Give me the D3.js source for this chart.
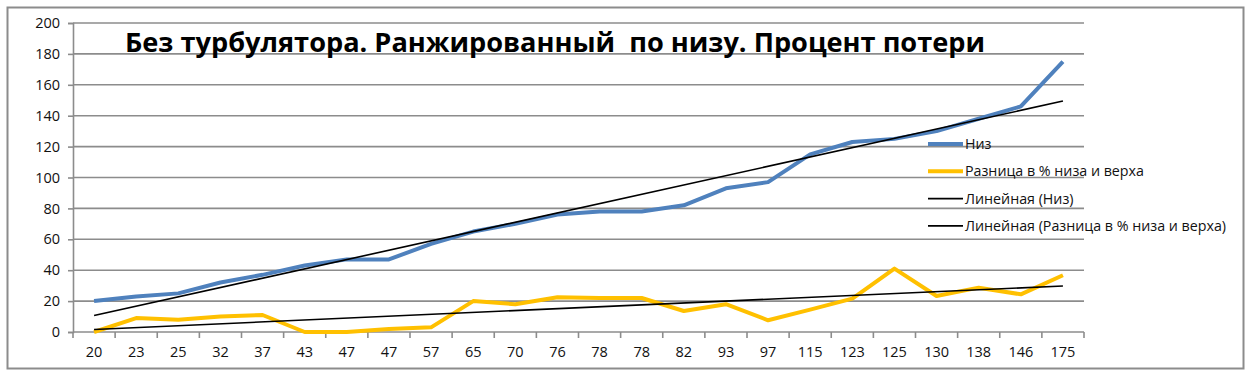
<!DOCTYPE html>
<html>
<head>
<meta charset="utf-8">
<script src="https://cdn.jsdelivr.net/npm/d3@7"></script>
<style>
  body { margin: 0; background: #fff; }
  svg { display: block; }
</style>
</head>
<body>
<div id="chart"></div>
<script>
// chart size
const WIDTH = 1251;
const HEIGHT = 376;
const MARGIN = { TOP: 23, RIGHT: 167, BOTTOM: 44, LEFT: 73 };

// data
const categories = ["20", "23", "25", "32", "37", "43", "47", "47", "57", "65", "70", "76",
    "78", "78", "82", "93", "97", "115", "123", "125", "130", "138", "146", "175"];
const niz = [20, 23, 25, 32, 37, 43, 47, 47, 57, 65, 70, 76,
    78, 78, 82, 93, 97, 115, 123, 125, 130, 138, 146, 175];
const raznica = [0, 9, 8, 10, 11, 0, 0, 2, 3, 20, 18, 22.5,
    22, 22, 13.6, 18, 7.6, 14.5, 21.6, 41, 23.3, 28.7, 24.4, 36.7];
const yTicks = [0, 20, 40, 60, 80, 100, 120, 140, 160, 180, 200];
const legendNames = ["Низ", "Разница в % низа и верха", "Линейная (Низ)", "Линейная (Разница в % низа и верха)"];
const title = "Без турбулятора. Ранжированный  по низу. Процент потери";

const BLUE = "#4f81bd";
const YELLOW = "#ffc000";
const GRID = "#8c8c8c";
const FONT = "'Open Sans', 'DejaVu Sans', sans-serif";

let svg = d3.select("#chart").append("svg")
    .attr("width", WIDTH)
    .attr("height", HEIGHT);

// outer frame
svg.append("rect")
    .attr("x", 7.5).attr("y", 7.5)
    .attr("width", 1236).attr("height", 361)
    .attr("fill", "none")
    .attr("stroke", GRID)
    .attr("stroke-width", 2);

let xScale = d3.scaleBand()
    .domain(d3.range(categories.length))
    .range([MARGIN.LEFT, WIDTH - MARGIN.RIGHT]);

let yScale = d3.scaleLinear()
    .domain([0, 200])
    .range([HEIGHT - MARGIN.BOTTOM, MARGIN.TOP]);

const cx = i => xScale(i) + xScale.bandwidth() / 2;

// gridlines
svg.append("g")
    .selectAll("line")
    .data(yTicks.filter(d => d > 0))
    .join("line")
    .attr("x1", MARGIN.LEFT).attr("x2", WIDTH - MARGIN.RIGHT)
    .attr("y1", d => yScale(d)).attr("y2", d => yScale(d))
    .attr("stroke", GRID)
    .attr("stroke-width", 1.6);

// y axis
let yAxis = d3.axisLeft(yScale).tickValues(yTicks).tickSize(5).tickPadding(8);
let gy = svg.append("g")
    .attr("transform", `translate(${MARGIN.LEFT},0)`)
    .call(yAxis);
gy.select(".domain").attr("stroke", GRID).attr("stroke-width", 1.6);
gy.selectAll(".tick line").attr("stroke", GRID).attr("stroke-width", 1.6);
gy.selectAll(".tick text")
    .attr("font-family", FONT).attr("font-size", 14.5).attr("fill", "#111");

// x axis, ticks on band boundaries
let gx = svg.append("g")
    .attr("transform", `translate(0,${HEIGHT - MARGIN.BOTTOM})`);
gx.append("line")
    .attr("x1", MARGIN.LEFT).attr("x2", WIDTH - MARGIN.RIGHT)
    .attr("stroke", GRID).attr("stroke-width", 1.6);
gx.selectAll(".xtick")
    .data(d3.range(categories.length + 1))
    .join("line")
    .attr("class", "xtick")
    .attr("x1", i => MARGIN.LEFT + i * xScale.bandwidth())
    .attr("x2", i => MARGIN.LEFT + i * xScale.bandwidth())
    .attr("y1", 0).attr("y2", 6)
    .attr("stroke", GRID).attr("stroke-width", 1.6);
gx.selectAll(".xlabel")
    .data(categories)
    .join("text")
    .attr("class", "xlabel")
    .attr("x", (d, i) => cx(i))
    .attr("y", 25)
    .attr("text-anchor", "middle")
    .attr("font-family", FONT).attr("font-size", 14.5).attr("fill", "#111")
    .text(d => d);

// title
svg.append("text")
    .attr("x", 125).attr("y", 52)
    .attr("font-family", FONT)
    .attr("font-weight", "bold")
    .attr("font-size", 26)
    .attr("fill", "#000")
    .attr("textLength", 860)
    .attr("lengthAdjust", "spacingAndGlyphs")
    .style("white-space", "pre")
    .text(title);

// least squares trend over 1..n
function trend(values) {
    let n = values.length;
    let xs = d3.range(1, n + 1);
    let mx = d3.mean(xs), my = d3.mean(values);
    let sxy = d3.sum(xs, (x, i) => (x - mx) * (values[i] - my));
    let sxx = d3.sum(xs, x => (x - mx) * (x - mx));
    let b = sxy / sxx, a = my - b * mx;
    return [[0, a + b], [n - 1, a + b * n]];
}

let line = d3.line()
    .x((d, i) => cx(i))
    .y(d => yScale(d));

let lineXY = d3.line()
    .x(d => cx(d[0]))
    .y(d => yScale(d[1]));

svg.append("path")
    .datum(niz)
    .attr("d", line)
    .attr("fill", "none")
    .attr("stroke", BLUE)
    .attr("stroke-width", 4)
    .attr("stroke-linejoin", "round");

svg.append("path")
    .datum(raznica)
    .attr("d", line)
    .attr("fill", "none")
    .attr("stroke", YELLOW)
    .attr("stroke-width", 4)
    .attr("stroke-linejoin", "round");

[niz, raznica].forEach(s => {
    svg.append("path")
        .datum(trend(s))
        .attr("d", lineXY)
        .attr("fill", "none")
        .attr("stroke", "#000")
        .attr("stroke-width", 1.6);
});

// legend
const legendStyle = [
    { color: BLUE, w: 4 },
    { color: YELLOW, w: 4 },
    { color: "#000", w: 1.8 },
    { color: "#000", w: 1.8 }
];
let legend = svg.append("g");
let items = legend.selectAll("g")
    .data(legendNames)
    .join("g")
    .attr("transform", (d, i) => `translate(928,${144 + i * 27.3})`);
items.append("line")
    .attr("x1", 0).attr("x2", 35)
    .attr("stroke", (d, i) => legendStyle[i].color)
    .attr("stroke-width", (d, i) => legendStyle[i].w);
let ltext = items.append("text")
    .attr("x", 37).attr("y", 5)
    .attr("font-family", FONT).attr("font-size", 14).attr("fill", "#111")
    .text(d => d);

// squeeze legend text to the width of the original
let longest = d3.max(ltext.nodes(), n => n.getComputedTextLength());
let ratio = 261 / longest;
ltext.each(function () {
    d3.select(this)
        .attr("textLength", this.getComputedTextLength() * ratio)
        .attr("lengthAdjust", "spacingAndGlyphs");
});
</script>
</body>
</html>
